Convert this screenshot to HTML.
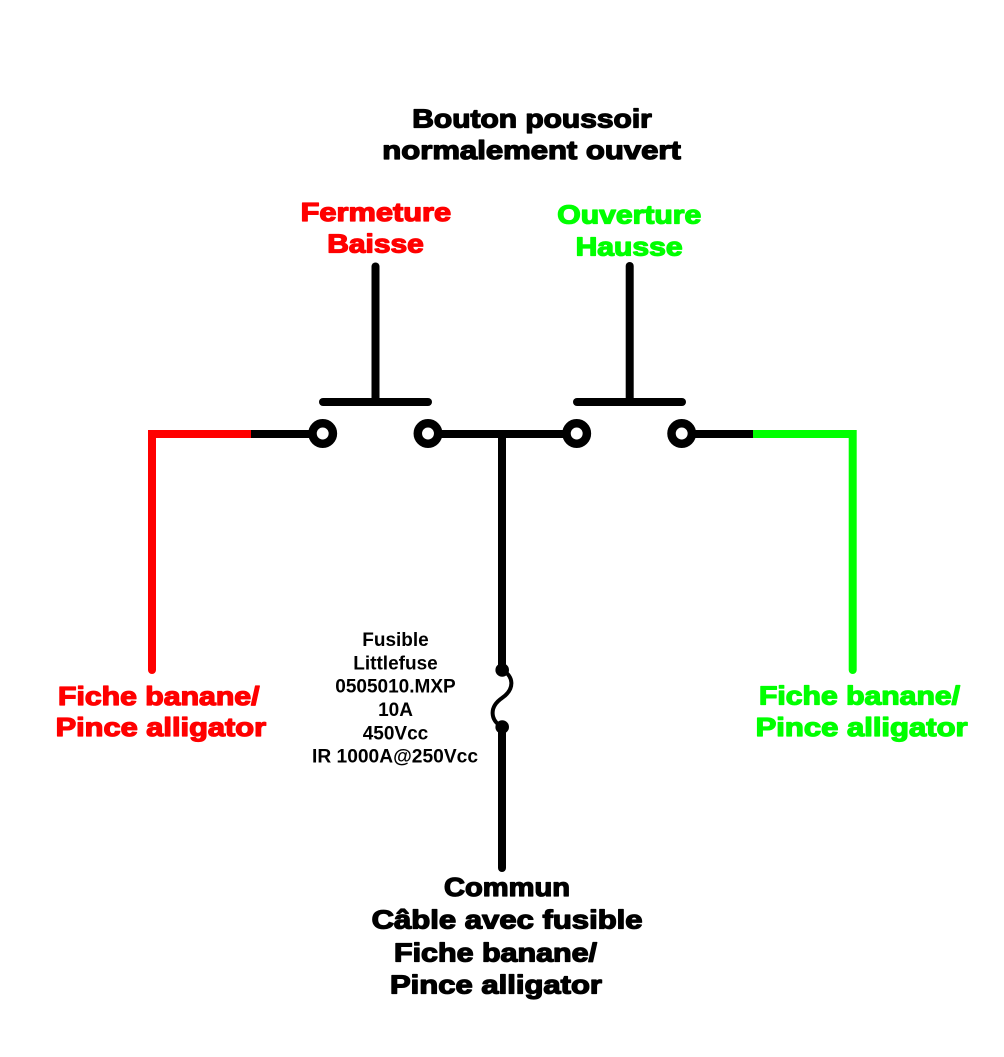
<!DOCTYPE html>
<html>
<head>
<meta charset="utf-8">
<style>
html,body{margin:0;padding:0;background:#fff;}
svg{display:block;}
.t{font-family:"Liberation Sans",Arial,sans-serif;font-weight:bold;font-size:26px;stroke-width:1.3px;stroke-linejoin:round;}
.f{font-family:"Liberation Sans",Arial,sans-serif;font-weight:bold;font-size:19px;fill:#000;}
</style>
</head>
<body>
<svg width="1004" height="1057" viewBox="0 0 1004 1057" xmlns="http://www.w3.org/2000/svg">
<rect width="1004" height="1057" fill="#fff"/>

<!-- Title -->
<text class="t" x="412.3" y="127.3" font-size="27" fill="#000" stroke="#000" textLength="239.5" lengthAdjust="spacingAndGlyphs">Bouton poussoir</text>
<text class="t" x="382.3" y="159" font-size="27" fill="#000" stroke="#000" textLength="298.5" lengthAdjust="spacingAndGlyphs">normalement ouvert</text>

<!-- Button labels -->
<text class="t" x="300.6" y="221" fill="#ff0000" stroke="#ff0000" textLength="150.5" lengthAdjust="spacingAndGlyphs">Fermeture</text>
<text class="t" x="327.3" y="252.3" fill="#ff0000" stroke="#ff0000" textLength="96.5" lengthAdjust="spacingAndGlyphs">Baisse</text>
<text class="t" x="557.3" y="223.5" fill="#00ff00" stroke="#00ff00" textLength="144" lengthAdjust="spacingAndGlyphs">Ouverture</text>
<text class="t" x="575.6" y="255.7" fill="#00ff00" stroke="#00ff00" textLength="107" lengthAdjust="spacingAndGlyphs">Hausse</text>

<!-- Actuators -->
<g stroke="#000" stroke-width="8" stroke-linecap="round" fill="none">
  <line x1="375.5" y1="266.5" x2="375.5" y2="402"/>
  <line x1="323" y1="402" x2="428" y2="402"/>
  <line x1="629.7" y1="266" x2="629.7" y2="402"/>
  <line x1="577" y1="402" x2="682" y2="402"/>
</g>

<!-- Red wire -->
<polyline points="152,670 152,434 252,434" fill="none" stroke="#ff0000" stroke-width="8" stroke-linejoin="miter" stroke-linecap="round"/>
<!-- Green wire -->
<polyline points="753,434 852.7,434 852.7,670" fill="none" stroke="#00ff00" stroke-width="8" stroke-linejoin="miter" stroke-linecap="round"/>

<!-- Black wires -->
<g stroke="#000" stroke-width="8" fill="none">
  <line x1="251" y1="434" x2="312" y2="434"/>
  <line x1="438" y1="434" x2="567" y2="434"/>
  <line x1="692" y1="434" x2="753" y2="434"/>
  <line x1="502" y1="434" x2="502" y2="670"/>
  <line x1="502" y1="727" x2="502" y2="868" stroke-linecap="round"/>
</g>

<!-- Contacts -->
<g stroke="#000" stroke-width="8.5" fill="#fff">
  <circle cx="322.7" cy="433.5" r="10.2"/>
  <circle cx="428" cy="433.5" r="10.2"/>
  <circle cx="576.7" cy="433.5" r="10.2"/>
  <circle cx="681.7" cy="433.5" r="10.2"/>
</g>

<!-- Fuse -->
<path d="M502,670 C514,676 515,689 502,698 C489,707 490,720 502,727" fill="none" stroke="#000" stroke-width="4"/>
<circle cx="502.2" cy="670" r="6.8" fill="#000"/>
<circle cx="502.2" cy="727" r="6.8" fill="#000"/>

<!-- Fuse text -->
<g class="f" text-anchor="middle">
  <text x="395.5" y="646">Fusible</text>
  <text x="395.5" y="669.3">Littlefuse</text>
  <text x="395.5" y="692.6">0505010.MXP</text>
  <text x="395.5" y="716">10A</text>
  <text x="395.5" y="739.3">450Vcc</text>
  <text x="395" y="762.3" textLength="166" lengthAdjust="spacingAndGlyphs" text-anchor="start" transform="translate(-83,0)">IR 1000A@250Vcc</text>
</g>

<!-- Left labels -->
<text class="t" x="58" y="705" fill="#ff0000" stroke="#ff0000" textLength="201.5" lengthAdjust="spacingAndGlyphs">Fiche banane/</text>
<text class="t" x="55.6" y="736" fill="#ff0000" stroke="#ff0000" textLength="210.5" lengthAdjust="spacingAndGlyphs">Pince alligator</text>

<!-- Right labels -->
<text class="t" x="759" y="704.5" fill="#00ff00" stroke="#00ff00" textLength="201" lengthAdjust="spacingAndGlyphs">Fiche banane/</text>
<text class="t" x="755.6" y="736" fill="#00ff00" stroke="#00ff00" textLength="212" lengthAdjust="spacingAndGlyphs">Pince alligator</text>

<!-- Bottom labels -->
<text class="t" x="444" y="896" fill="#000" stroke="#000" textLength="126" lengthAdjust="spacingAndGlyphs">Commun</text>
<text class="t" x="371.6" y="928.3" fill="#000" stroke="#000" textLength="271" lengthAdjust="spacingAndGlyphs">Câble avec fusible</text>
<text class="t" x="394" y="961.7" fill="#000" stroke="#000" textLength="203" lengthAdjust="spacingAndGlyphs">Fiche banane/</text>
<text class="t" x="390" y="993.3" fill="#000" stroke="#000" textLength="212" lengthAdjust="spacingAndGlyphs">Pince alligator</text>
</svg>
</body>
</html>
